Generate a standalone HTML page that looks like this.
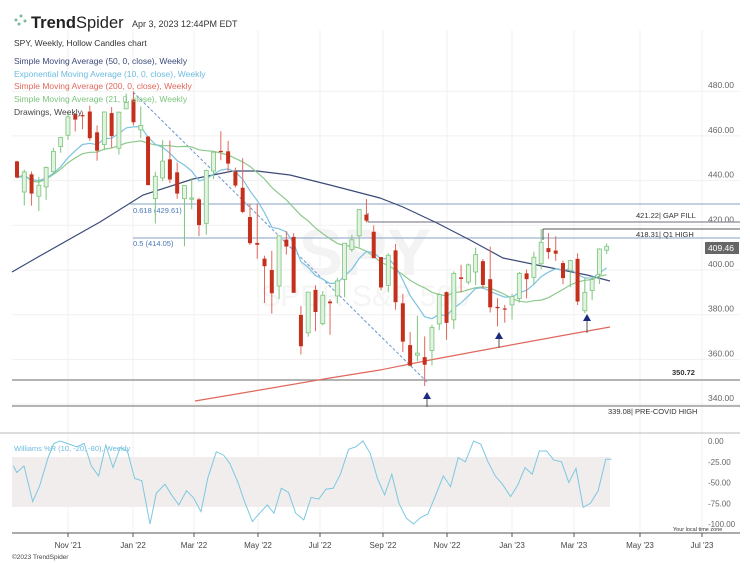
<!DOCTYPE html>
<html><head><meta charset="utf-8"><style>
html,body{margin:0;padding:0;background:#fff;}
svg{display:block;font-family:"Liberation Sans",sans-serif;}
</style></head><body>
<svg id="c" width="750" height="563" viewBox="0 0 750 563" xmlns="http://www.w3.org/2000/svg"></svg>
<script>
const D=[
[448.6,448.9,441.0,441.4],[434.9,444.9,428.9,443.9],[442.8,444.1,428.8,434.2],[433.0,441.7,426.4,437.9],[437.2,446.3,431.4,445.9],[443.97,454.7,443.3,453.1],[455.2,459.6,452.5,459.3],[460.3,470.7,458.2,468.5],[469.7,470.2,462.0,467.3],[469.3,470.9,463.0,468.9],[470.9,473.5,457.8,458.97],[461.6,464.7,448.9,453.4],[456.1,470.9,453.6,470.7],[470.2,472.9,454.7,459.9],[454.5,470.9,451.7,470.6],[472.1,479.0,472.0,474.96],
[476.3,479.98,464.7,466.1],[462.7,473.2,459.0,464.7],[459.7,459.96,437.95,437.98],[432.0,444.0,420.8,441.95],[441.2,458.1,439.8,448.7],[449.5,457.9,438.9,440.5],[443.7,448.1,431.8,434.2],[431.9,437.8,410.6,437.8],[432.0,441.1,427.1,432.2],[431.6,432.3,415.1,420.1],[420.9,444.9,415.8,444.5],[444.3,452.98,440.7,452.7],[453.3,462.1,449.1,452.9],[453.1,457.8,443.5,447.6],[444.1,445.8,436.9,437.8],[436.8,450.0,425.4,426.0],[423.7,429.6,411.2,412.0],[412.1,429.7,405.0,411.3],[405.1,406.4,385.2,401.7],[399.98,408.6,380.5,389.6],[392.8,415.4,386.96,415.3],[413.6,417.4,406.9,410.5],[414.8,416.5,389.8,389.8],[379.9,383.9,362.2,365.9],[371.9,390.1,370.2,390.1],[391.1,393.2,372.6,381.2],[376.0,390.6,375.2,388.7],[385.9,386.9,371.0,385.1],[388.4,396.5,385.0,395.1],[395.8,411.9,387.8,411.99],[409.2,415.7,408.1,413.5],[415.3,427.2,410.2,427.1],[424.8,431.7,421.2,422.1],[417.1,419.96,405.3,405.3],[405.8,405.9,390.8,392.2],[393.1,407.5,390.0,406.6],[408.8,411.7,382.2,385.6],[385.1,389.3,363.3,367.95],[366.4,372.3,357.0,357.2],[361.9,379.5,359.2,362.8],[361.0,370.3,348.1,357.6],[364.0,375.5,357.3,374.3],[375.9,389.5,373.1,389.0],[390.1,390.4,368.8,376.35],[377.7,399.35,373.6,398.5],[396.7,402.3,390.0,396.0],[394.6,402.9,393.5,402.3],[399.1,410.0,393.3,406.9],[403.95,404.9,391.6,393.3],[395.9,410.5,381.04,383.3],[383.5,387.4,374.8,382.9],[382.8,384.4,376.4,382.4],[384.4,389.3,377.8,388.1],[387.25,399.1,385.4,398.5],[398.5,400.2,387.3,395.9],[396.7,408.2,393.6,405.7],[402.8,418.31,400.3,412.4],[409.8,416.5,405.0,408.0],[408.7,415.05,404.1,407.3],[403.1,404.2,393.6,396.4],[399.9,404.5,392.3,404.2],[405.0,407.45,384.3,385.9],[381.8,396.5,380.65,389.99],[390.8,397.4,386.5,395.75],[398.1,409.7,393.7,409.4],[408.85,411.9,407.2,410.6]];
const Y=p=>270-(p-400)*2.235, X=i=>17+i*7.28;
let s='';
const L=(x1,y1,x2,y2,c,w,extra)=>s+=`<line x1="${x1}" y1="${y1}" x2="${x2}" y2="${y2}" stroke="${c}" stroke-width="${w||1}" ${extra||''}/>`;
const T=(x,y,t,sz,c,extra)=>s+=`<text x="${x}" y="${y}" font-size="${sz}" fill="${c}" ${extra||''}>${t}</text>`;
const P=(pts,c,w,extra)=>s+=`<polyline points="${pts.map(p=>p.join(',')).join(' ')}" fill="none" stroke="${c}" stroke-width="${w||1}" ${extra||''}/>`;
const months=[[68,"Nov '21"],[133,"Jan '22"],[194,"Mar '22"],[258,"May '22"],[320,"Jul '22"],[383,"Sep '22"],[447,"Nov '22"],[512,"Jan '23"],[574,"Mar '23"],[640,"May '23"],[702,"Jul '23"]];
months.forEach(m=>{L(m[0],30,m[0],533,'#f1f1f1',1);});
[480,460,440,420,400,380,360,340].forEach(p=>{L(12,Y(p),740,Y(p),'#f1f1f1',1);T(708,Y(p)-3,p.toFixed(2),8.5,'#666');});
T(365,275,'SPY',66,'#f3f3f3','text-anchor="middle" font-weight="bold"');
T(365,306,'SPDR S&amp;P 500',30,'#f5f5f5','text-anchor="middle"');
L(130,204,740,204,'#9db3cf',1.2);T(133,213,'0.618 (429.61)',7.5,'#4a78b8');
L(133,238,740,238,'#9db3cf',1.2);T(133,246,'0.5 (414.05)',7.5,'#4a78b8');
L(368,213,368,222,'#666',1);L(368,222,740,222,'#8a8a9a',1.2);T(636,218,'421.22| GAP FILL',7.5,'#333');
L(543,240,543,229,'#555',1);L(543,229,740,229,'#555',1);T(636,237,'418.31| Q1 HIGH',7.5,'#333');
L(12,380,740,380,'#888',1.2);T(672,375,'350.72',7.5,'#333','font-weight="bold"');
L(12,406,740,406,'#888',1.2);T(608,414,'339.08| PRE-COVID HIGH',7.5,'#333');
L(133,92,427,382,'#6a95cc',1,'stroke-dasharray="3,2"');
P([[195,401],[260,390],[330,378],[380,370],[430,360],[500,347],[560,336],[610,327]],'#e0675c',1.2);
P([[12,272],[38,257],[100,222],[143,195],[193,179],[233,171],[257,171],[290,175],[330,185],[380,198],[403,207],[437,223],[470,240],[503,258],[537,265],[587,275],[610,281]],'#3c4a78',1.2);
let e=D[0][3],ema=[],sma=[];
D.forEach((d,i)=>{e=i?d[3]*2/11+e*9/11:d[3];ema.push([X(i),Y(e).toFixed(1)]);let a=D.slice(Math.max(0,i-20),i+1);let m=a.reduce((q,r)=>q+r[3],0)/a.length;sma.push([X(i),Y(m).toFixed(1)]);});
P(sma,'#8cc98c',1.2);P(ema,'#7cc3e0',1.2);
D.forEach((d,i)=>{const x=X(i),[o,h,l,c]=d;const up=c>=o;const col=up?'#7cc47c':'#c4301c';
L(x,Y(h),x,Y(l),up?'#7cc47c':'#e0675c',1);
const t=Y(Math.max(o,c)),b=Y(Math.min(o,c));
s+=`<rect x="${x-2}" y="${t}" width="4" height="${Math.max(1.2,b-t)}" fill="${up?'#e2f3e2':'#c4301c'}" stroke="${col}" stroke-width="${up?0.8:0}"/>`;});
[[427,392,407],[499,332,348],[587,314,333]].forEach(a=>{L(a[0],a[1]+5,a[0],a[2],'#555',1);s+=`<polygon points="${a[0]},${a[1]} ${a[0]-4},${a[1]+7} ${a[0]+4},${a[1]+7}" fill="#1b2a80"/>`;});
s+=`<rect x="705" y="242" width="34" height="12" fill="#666"/>`;T(708,251,'409.46',8.5,'#fff');
s+=`<g fill="#7cb89a"><circle cx="16" cy="20" r="1.5"/><circle cx="21" cy="16" r="1.5"/><circle cx="19" cy="24" r="1.5"/><circle cx="25" cy="21" r="1.5"/></g>`;
T(31,28,'<tspan font-weight="bold">Trend</tspan>Spider',16.5,'#222');
T(132,27,'Apr 3, 2023 12:44PM EDT',9,'#333');
T(14,46,'SPY, Weekly, Hollow Candles chart',8.5,'#333');
T(14,64,'Simple Moving Average (50, 0, close), Weekly',8.5,'#3c4a78');
T(14,77,'Exponential Moving Average (10, 0, close), Weekly',8.5,'#6cbbe0');
T(14,89,'Simple Moving Average (200, 0, close), Weekly',8.5,'#e0675c');
T(14,102,'Simple Moving Average (21, 0, close), Weekly',8.5,'#7cc47c');
T(14,115,'Drawings, Weekly',8.5,'#444');
L(0,433,740,433,'#bbb',1);
s+=`<rect x="12" y="457" width="598" height="50" fill="#f1eded"/>`;
T(14,451,'Williams %R (10, -20, -80), Weekly',7.5,'#6cbbe0');
[[0,'0.00'],[-25,'-25.00'],[-50,'-50.00'],[-75,'-75.00'],[-100,'-100.00']].forEach(v=>T(708,441+(-v[0])*0.83+3,v[1],8,'#666'));
const W=[[28,-30],[35,-38],[50,-30],[68,-73],[82,-55],[100,-20],[112,-3],[125,0],[140,-3],[160,-7],[175,-3],[190,-30],[205,-42],[220,-5],[235,-32],[250,-8],[265,-12],[280,-45],[295,-48],[312,-100],[325,-63],[343,-52],[357,-65],[372,-77],[388,-60],[402,-68],[418,-85],[432,-45],[450,-13],[465,-17],[478,-27],[495,-50],[510,-75],[525,-97],[540,-87],[556,-77],[570,-87],[585,-57],[600,-62],[615,-87],[632,-95],[647,-68],[663,-70],[678,-58],[693,-57],[708,-40],[725,-10],[740,-7],[755,0],[770,-15],[785,-45],[800,-65],[815,-40],[830,-75],[845,-93],[860,-100],[875,-92],[890,-88],[905,-67],[922,-42],[937,-55],[953,-20],[968,-25],[985,0],[1000,-4],[1015,-25],[1030,-42],[1045,-52],[1062,-67],[1077,-53],[1092,-32],[1107,-40],[1122,-12],[1137,-12],[1152,-23],[1168,-25],[1183,-50],[1198,-33],[1213,-80],[1228,-75],[1244,-60],[1260,-22],[1272,-22]];
P(W.map(w=>[(w[0]/2.08).toFixed(1),(441-w[1]*0.83).toFixed(1)]),'#7cc8e0',1);
T(673,531,'Your local time zone',5.5,'#333');
L(12,533,740,533,'#555',1);
months.forEach(m=>{L(m[0],533,m[0],537,'#555',1);T(m[0],548,m[1],8,'#444','text-anchor="middle"');});
T(12,559,'©2023 TrendSpider',6.5,'#444');
document.getElementById('c').innerHTML=s;
</script>
</body></html>
